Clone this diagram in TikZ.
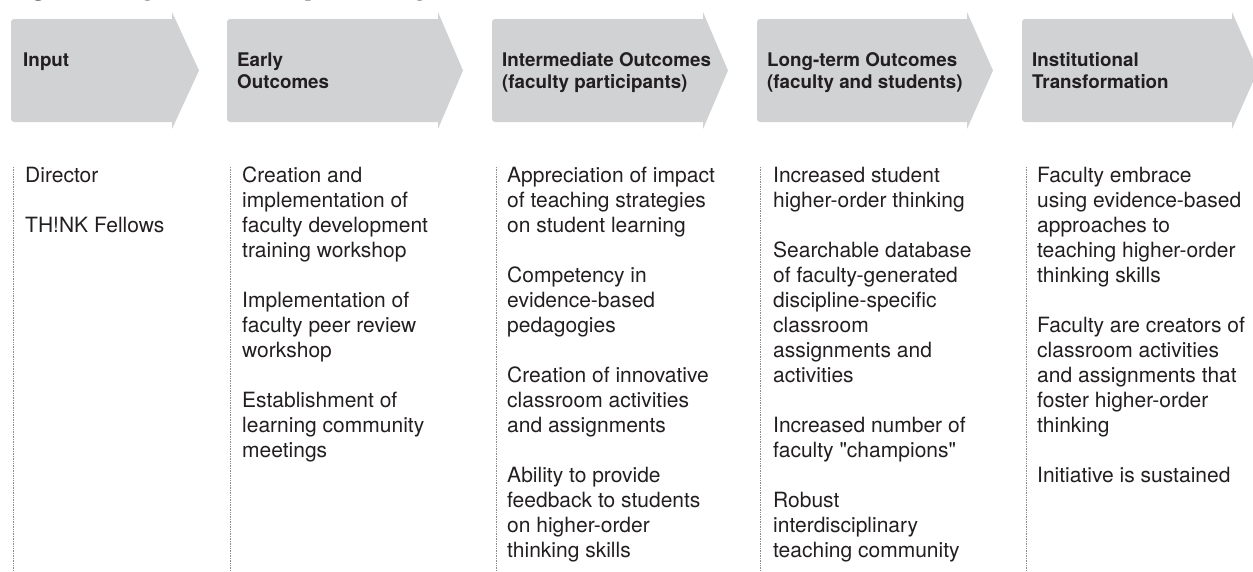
\documentclass[tikz,border=0pt]{standalone}
\usepackage{fontspec}
\setsansfont{TeX Gyre Heros}[Ligatures=TeXOff]
\setmainfont{Liberation Serif}
\usepackage{tikz}
\usetikzlibrary{positioning}

\definecolor{stagegray}{RGB}{209,210,212}
\definecolor{inkgray}{RGB}{35,31,32}

\begin{document}
\begin{tikzpicture}[
    x=1pt, y=-1pt,
    stage/.style={fill=stagegray},
    head/.style={anchor=base west, align=left, inner sep=0pt, text=inkgray, font=\sffamily\bfseries\fontsize{18.8}{22}\selectfont},
    item/.style={anchor=base west, align=left, inner sep=0pt, text=inkgray, font=\sffamily\fontsize{21}{25}\selectfont},
    sepline/.style={gray!90, densely dotted, line width=0.7pt},
]
    \useasboundingbox (0,0) rectangle (1253,571);

    % title, cut at the top
    \node[anchor=base west, inner sep=0pt, font=\fontsize{25}{30}\selectfont] (title) at (10,-5)
        {\textbf{Figure 1.} Logic Model of Impact Through Institutional Transformation};

    % Stages
    \fill[stage] (172,12) -- (199,70.5) -- (172,129) -- (172,122) [rounded corners=3pt] -- (11,122) -- (11,19) [sharp corners] -- (172,19) -- cycle;
    \fill[stage] (438,12) -- (463,70.5) -- (438,129) -- (438,122) [rounded corners=3pt] -- (227,122) -- (227,19) [sharp corners] -- (438,19) -- cycle;
    \fill[stage] (703,12) -- (728,70.5) -- (703,129) -- (703,122) [rounded corners=3pt] -- (492,122) -- (492,19) [sharp corners] -- (703,19) -- cycle;
    \fill[stage] (967,12) -- (993,70.5) -- (967,129) -- (967,122) [rounded corners=3pt] -- (757,122) -- (757,19) [sharp corners] -- (967,19) -- cycle;
    \fill[stage] (1232,12) -- (1258,70.5) -- (1232,129) -- (1232,122) [rounded corners=3pt] -- (1022,122) -- (1022,19) [sharp corners] -- (1232,19) -- cycle;

    % Stage labels (anchored on their last line)
    \node[head] (input) at (23,66) {Input};
    \node[head] (early) at (237,88) {Early\\Outcomes};
    \node[head] (inter) at (502,88) {Intermediate Outcomes\\(faculty participants)};
    \node[head] (long) at (767,88) {Long-term Outcomes\\(faculty and students)};
    \node[head] (inst) at (1032,88) {Institutional\\Transformation};

    % Separators
    \draw[sepline] (13,167) -- (13,571);
    \draw[sepline] (230,167) -- (230,571);
    \draw[sepline] (496,167) -- (496,571);
    \draw[sepline] (760,167) -- (760,571);
    \draw[sepline] (1026,167) -- (1026,571);

    % Column texts (anchored on their last line)
    \node[item] (inputs) at (25,232) {Director\\[25pt]TH!NK Fellows};
    \node[item] (earlys) at (242,457) {Creation and\\implementation of\\faculty development\\training workshop\\[25pt]%
        Implementation of\\faculty peer review\\workshop\\[25pt]%
        Establishment of\\learning community\\meetings};
    \node[item] (inters) at (507,557) {Appreciation of impact\\of teaching strategies\\on student learning\\[25pt]%
        Competency in\\evidence-based\\pedagogies\\[25pt]%
        Creation of innovative\\classroom activities\\and assignments\\[25pt]%
        Ability to provide\\feedback to students\\on higher-order\\thinking skills};
    \node[item] (longs) at (773,557) {Increased student\\higher-order thinking\\[25pt]%
        Searchable database\\of faculty-generated\\discipline-specific\\classroom\\assignments and\\activities\\[25pt]%
        Increased number of\\faculty "champions"\\[25pt]%
        Robust\\interdisciplinary\\teaching community};
    \node[item] (insts) at (1037,482) {Faculty embrace\\using evidence-based\\approaches to\\teaching higher-order\\thinking skills\\[25pt]%
        Faculty are creators of\\classroom activities\\and assignments that\\foster higher-order\\thinking\\[25pt]%
        Initiative is sustained};

\end{tikzpicture}
\end{document}
